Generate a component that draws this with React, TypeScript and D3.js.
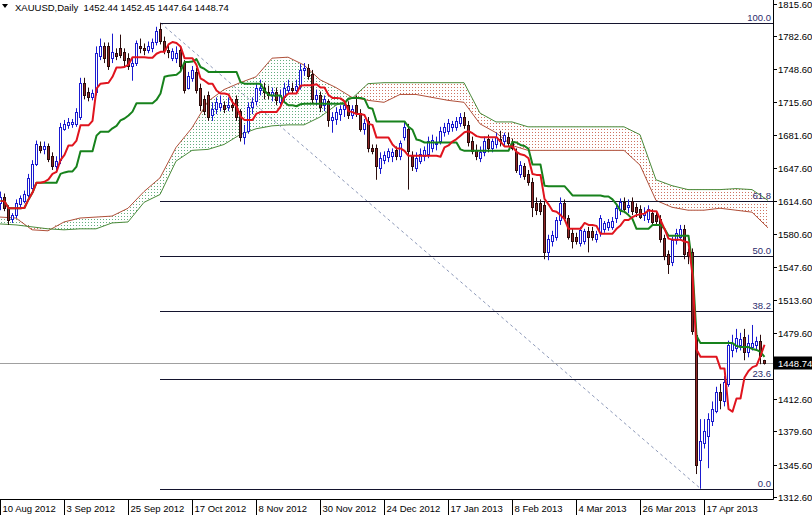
import React from 'react';
import * as d3 from 'd3';

// ---- Data ----
const opens = [
  1612,1618,1608,1596,1600,1611,1614,1620,1628,1652,1670,1667,1670,1660,1650,1656,1688,1692,1693,1693,
  1700,1735,1725,1720,1725,1762,1772,1772,1760,1765,1770,1766,1760,1752,1755,1772,1770,1768,1770,1776,
  1790,1778,1768,1760,1760,1768,1755,1730,1740,1746,1730,1718,1722,1702,1708,1710,1712,1710,1712,1718,
  1706,1680,1686,1710,1716,1728,1730,1726,1722,1725,1715,1720,1728,1730,1728,1732,1748,1750,1744,1718,
  1722,1712,1716,1697,1698,1703,1708,1712,1702,1712,1704,1688,1696,1668,1668,1648,1656,1659,1660,1666,
  1660,1680,1688,1660,1648,1655,1660,1662,1668,1672,1676,1685,1686,1690,1690,1694,1700,1692,1676,1666,
  1658,1664,1678,1668,1672,1678,1676,1680,1674,1664,1642,1650,1642,1634,1612,1612,1610,1562,1574,1578,
  1595,1612,1597,1582,1578,1572,1574,1584,1584,1576,1583,1586,1588,1588,1597,1605,1613,1608,1614,1608,
  1606,1600,1596,1602,1600,1596,1577,1560,1552,1575,1578,1586,1562,1562,1478,1350,1368,1375,1390,1400,
  1420,1410,1428,1462,1465,1468,1476,1460,1466,1468,1472,1452.44
];
const highs = [
  1624,1622,1610,1602,1616,1620,1625,1642,1656,1676,1675,1675,1673,1664,1660,1694,1697,1699,1698,1709,
  1740,1740,1730,1728,1772,1780,1776,1776,1785,1770,1784,1770,1765,1760,1778,1780,1775,1777,1780,1792,
  1796,1782,1773,1770,1772,1772,1758,1746,1752,1750,1734,1722,1726,1715,1720,1722,1716,1720,1718,1722,
  1708,1692,1715,1720,1735,1738,1735,1732,1730,1730,1728,1735,1738,1735,1738,1754,1755,1754,1748,1728,
  1726,1722,1718,1705,1710,1712,1716,1716,1712,1722,1708,1698,1700,1672,1672,1664,1665,1668,1668,1670,
  1676,1695,1693,1665,1664,1668,1670,1680,1682,1680,1690,1694,1698,1696,1700,1704,1705,1696,1680,1672,
  1670,1680,1682,1678,1684,1686,1684,1684,1678,1668,1655,1653,1646,1638,1618,1616,1614,1580,1584,1598,
  1618,1616,1600,1586,1582,1588,1586,1588,1588,1584,1600,1594,1596,1598,1610,1617,1618,1616,1618,1612,
  1610,1608,1610,1606,1604,1600,1580,1564,1578,1586,1590,1590,1566,1566,1484,1392,1392,1398,1410,1425,
  1428,1436,1472,1478,1484,1480,1484,1478,1488,1476,1478,1452.45
];
const lows = [
  1605,1604,1590,1592,1597,1608,1612,1618,1626,1650,1663,1662,1654,1646,1643,1652,1686,1688,1689,1690,
  1697,1718,1716,1717,1722,1758,1755,1748,1755,1758,1760,1752,1748,1737,1752,1765,1763,1765,1766,1773,
  1774,1764,1760,1757,1755,1748,1724,1728,1736,1724,1706,1702,1696,1696,1703,1706,1704,1706,1706,1696,
  1675,1672,1683,1703,1712,1722,1718,1718,1716,1712,1710,1716,1724,1724,1724,1728,1742,1738,1714,1712,
  1705,1706,1690,1684,1692,1696,1700,1698,1698,1700,1685,1682,1664,1662,1636,1642,1652,1654,1654,1656,
  1656,1676,1626,1645,1644,1652,1655,1658,1664,1666,1672,1680,1682,1685,1686,1690,1688,1670,1662,1656,
  1654,1660,1664,1664,1668,1670,1670,1670,1666,1643,1638,1636,1630,1598,1600,1600,1555,1554,1568,1574,
  1590,1594,1575,1566,1570,1568,1570,1562,1574,1572,1578,1582,1584,1585,1592,1600,1602,1602,1600,1598,
  1596,1594,1592,1590,1590,1572,1554,1540,1548,1570,1574,1555,1550,1478,1336,1321,1362,1342,1385,1398,
  1402,1405,1425,1455,1460,1462,1452,1455,1462,1462,1448,1447.64
];
const closes = [
  1618,1607,1595,1600,1612,1617,1622,1638,1652,1673,1666,1670,1657,1650,1655,1690,1693,1695,1695,1705,
  1735,1722,1720,1724,1765,1772,1760,1752,1766,1762,1763,1758,1752,1755,1775,1770,1768,1772,1776,1788,
  1778,1768,1766,1767,1765,1752,1728,1742,1748,1728,1712,1706,1700,1708,1715,1714,1708,1712,1710,1700,
  1680,1685,1710,1715,1730,1730,1725,1722,1725,1717,1722,1730,1732,1728,1732,1748,1750,1742,1718,1722,
  1710,1718,1697,1700,1705,1708,1712,1702,1708,1704,1688,1694,1668,1665,1650,1658,1661,1665,1664,1660,
  1674,1690,1665,1650,1658,1662,1666,1676,1677,1674,1686,1690,1694,1693,1696,1700,1692,1675,1665,1660,
  1664,1676,1668,1676,1680,1676,1682,1674,1668,1646,1651,1640,1634,1608,1605,1604,1562,1576,1580,1595,
  1612,1597,1578,1574,1574,1585,1584,1578,1578,1581,1597,1592,1593,1594,1607,1613,1606,1610,1604,1603,
  1598,1602,1606,1593,1594,1576,1558,1550,1575,1582,1586,1560,1558,1482,1345,1370,1380,1392,1402,1420,
  1412,1430,1468,1470,1475,1474,1460,1470,1470,1472,1456,1448.74
];

// Ichimoku cloud edges (Senkou Span A / B), read every 4 bars
const kumoA = [1598,1597,1585,1584,1593,1597,1598,1599,1607,1624,1638,1669,1689,1716,1728,1735,1741,1760,1761,1753,
  1738,1730,1720,1717,1715,1723,1723,1720,1717,1715,1693,1684,1671,1666,1666,1666,1666,1666,1666,1666,
  1651,1615,1608,1605,1605,1607,1605,1603,1587];
const kumoB = [1591,1590,1588,1586,1585,1586,1586,1592,1593,1613,1621,1655,1666,1667,1672,1682,1688,1691,1692,1692,
  1700,1712,1719,1734,1735,1735,1735,1735,1735,1735,1704,1695,1695,1690,1690,1690,1690,1690,1690,1690,
  1682,1636,1630,1626,1626,1626,1627,1626,1615];

const dateLabels = ['10 Aug 2012','3 Sep 2012','25 Sep 2012','17 Oct 2012','8 Nov 2012','30 Nov 2012',
  '24 Dec 2012','17 Jan 2013','8 Feb 2013','4 Mar 2013','26 Mar 2013','17 Apr 2013'];
const priceTicks = [1815.6,1782.6,1748.6,1715.6,1681.6,1647.6,1614.6,1580.6,1547.6,1513.6,1479.6,1412.6,1379.6,1345.6,1312.6];
const fibLevels = [0, 23.6, 38.2, 50, 61.8, 100];
const fibHighBar = 40;
const fibHighPrice = 1795.9;
const fibLowBar = 175;
const fibLowPrice = 1321.2;
const lastPrice = 1448.74;
const symbolTitle = 'XAUUSD,Daily';
const titleValues = ['1452.44', '1452.45', '1447.64', '1448.74'];

const W = 812;
const H = 516;
const PR = 773; // plot right edge
const PB = 499; // plot bottom edge
const FONT = '"Liberation Sans", Arial, sans-serif';

function midRange(i: number, n: number) {
  const s = Math.max(0, i - n + 1);
  let hi = -Infinity, lo = Infinity;
  for (let j = s; j <= i; j++) {
    if (highs[j] > hi) hi = highs[j];
    if (lows[j] < lo) lo = lows[j];
  }
  return (hi + lo) / 2;
}

export default function App() {
  const x = d3.scaleLinear().domain([0, 1]).range([0, 4]);
  const y = d3.scaleLinear().domain([1312.6, 1782.6]).range([497, 36]);

  const tenkan = closes.map((_, i) => midRange(i, 9));
  const kijun = closes.map((_, i) => midRange(i, 26));

  const line = d3.line<number>().x((_, i) => x(i) + 0.5).y(v => y(v));

  const kumo = kumoA.map((a, k) => ({ bar: k * 4, a, b: kumoB[k] }));
  const greenArea = d3.area<any>().x(d => x(d.bar)).y0(d => y(d.b)).y1(d => y(Math.max(d.a, d.b)));
  const redArea = d3.area<any>().x(d => x(d.bar)).y0(d => y(d.a)).y1(d => y(Math.max(d.a, d.b)));
  const lineA = d3.line<any>().x(d => x(d.bar)).y(d => y(d.a));
  const lineB = d3.line<any>().x(d => x(d.bar)).y(d => y(d.b));

  const fibY = (p: number) => y(fibLowPrice + (p / 100) * (fibHighPrice - fibLowPrice));
  const lastY = Math.round(y(lastPrice)) + 0.5;

  return (
    <div style={{ position: 'fixed', left: 0, top: 0, width: W, height: H, background: '#fff' }}>
      <svg width={W} height={H} style={{ display: 'block' }} fontFamily={FONT}>
        <defs>
          <clipPath id="plot"><rect x={0} y={0} width={PR} height={PB} /></clipPath>
          <pattern id="hatchG" width={3} height={3} patternUnits="userSpaceOnUse">
            <rect x={1} y={0} width={1} height={1} fill="#3d9a5e" />
          </pattern>
          <pattern id="hatchR" width={3} height={3} patternUnits="userSpaceOnUse">
            <rect x={1} y={0} width={1} height={1} fill="#c0503a" />
          </pattern>
        </defs>
        <rect x={0} y={0} width={W} height={H} fill="#fff" />

        <g clipPath="url(#plot)">
          {/* cloud */}
          <path d={greenArea(kumo) || ''} fill="url(#hatchG)" opacity={0.8} />
          <path d={redArea(kumo) || ''} fill="url(#hatchR)" opacity={0.8} />
          <path d={lineA(kumo) || ''} fill="none" stroke="#b0503a" strokeWidth={1} />
          <path d={lineB(kumo) || ''} fill="none" stroke="#4a8a3a" strokeWidth={1} />

          {/* fibonacci */}
          <line x1={x(fibHighBar) + 0.5} y1={y(fibHighPrice)} x2={x(fibLowBar) + 0.5} y2={y(fibLowPrice)}
            stroke="#8c98b8" strokeWidth={1} strokeDasharray="3 3" />
          {fibLevels.map(p => {
            const ly = Math.round(fibY(p)) + 0.5;
            return (
              <g key={p}>
                <line x1={x(fibHighBar)} x2={PR} y1={ly} y2={ly} stroke="#14142e" strokeWidth={1} />
                <text x={771} y={ly - 2.5} textAnchor="end" fontSize={9.5} fill="#2c2c6c">{p.toFixed(1)}</text>
              </g>
            );
          })}

          {/* current price line */}
          <line x1={0} x2={PR} y1={lastY} y2={lastY} stroke="#a0a0a0" strokeWidth={1} />

          {/* candles */}
          {closes.map((c, i) => {
            const o = opens[i];
            const bull = c >= o;
            const cx = x(i) + 0.5;
            const top = Math.round(y(Math.max(o, c)));
            const bot = Math.round(y(Math.min(o, c)));
            const stroke = bull ? '#1a1ad0' : '#2a0c0c';
            return (
              <g key={i}>
                <line x1={cx} x2={cx} y1={y(highs[i])} y2={y(lows[i])} stroke={stroke} strokeWidth={1} />
                <rect x={x(i) - 0.5} y={top + 0.5} width={2} height={Math.max(1, bot - top)}
                  fill={bull ? '#ffffff' : '#8e2626'} stroke={stroke} strokeWidth={1} />
              </g>
            );
          })}

          {/* tenkan / kijun */}
          <path d={line(kijun) || ''} fill="none" stroke="#17821c" strokeWidth={2} strokeLinejoin="round" />
          <path d={line(tenkan) || ''} fill="none" stroke="#e0141e" strokeWidth={2} strokeLinejoin="round" />
        </g>

        {/* axes */}
        <line x1={PR + 0.5} x2={PR + 0.5} y1={0} y2={PB + 0.5} stroke="#000" strokeWidth={1} />
        <line x1={0} x2={PR + 0.5} y1={PB + 0.5} y2={PB + 0.5} stroke="#000" strokeWidth={1} />

        {priceTicks.map(t => {
          const ty = Math.round(y(t)) + 0.5;
          return (
            <g key={t}>
              <line x1={PR} x2={PR + 4} y1={ty} y2={ty} stroke="#000" strokeWidth={1} />
              <text x={778} y={ty + 3.5} fontSize={9.5} fill="#000">{t.toFixed(2)}</text>
            </g>
          );
        })}
        <rect x={PR + 1} y={lastY - 7} width={W - PR - 1} height={13} fill="#000" />
        <text x={778} y={lastY + 3.5} fontSize={9.5} fill="#fff">{lastPrice.toFixed(2)}</text>

        {dateLabels.map((lab, k) => {
          const tx = Math.round(x(k * 16)) + 0.5;
          return (
            <g key={lab}>
              <line x1={tx} x2={tx} y1={PB + 1} y2={515} stroke="#000" strokeWidth={1} />
              <text x={tx + 2} y={512} fontSize={9.5} fill="#000">{lab}</text>
            </g>
          );
        })}

        {/* title */}
        <path d="M2,4 L8,4 L5,8 Z" fill="#000" />
        <text x={15} y={11} fontSize={9.5} fill="#000" style={{ whiteSpace: 'pre' }}>
          {symbolTitle + '  ' + titleValues.join(' ')}
        </text>
      </svg>
    </div>
  );
}
